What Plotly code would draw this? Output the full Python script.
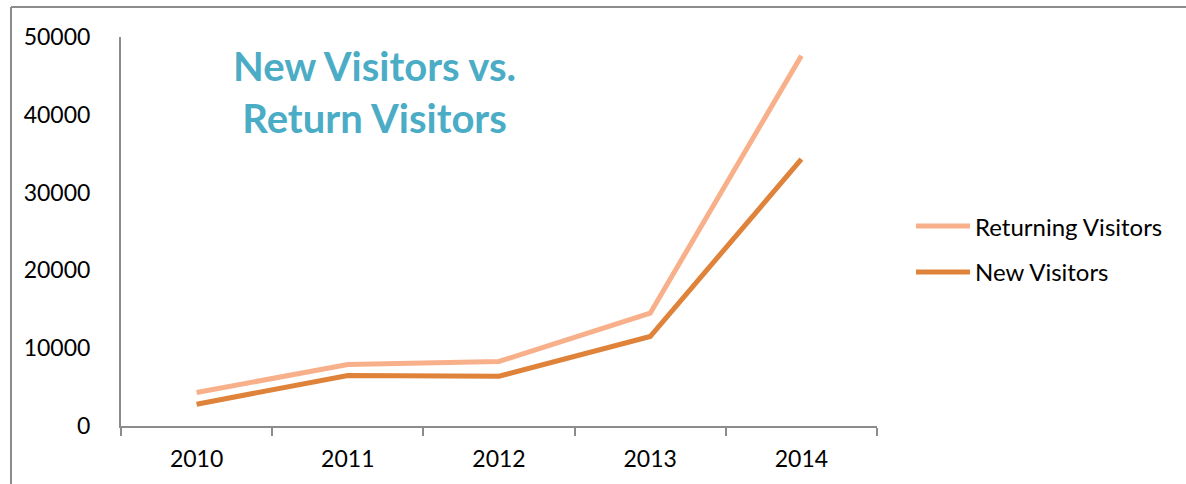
import plotly.graph_objects as go

years = ["2010", "2011", "2012", "2013", "2014"]
returning_visitors = [4300, 7900, 8300, 14500, 47600]
new_visitors = [2800, 6500, 6400, 11500, 34300]
series_names = ["Returning Visitors", "New Visitors"]
series_colors = ["#F8B08A", "#DF823A"]
y_ticks = [0, 10000, 20000, 30000, 40000, 50000]
title_lines = ["New Visitors vs.", "Return Visitors"]

FONT = "Lato, Carlito, Calibri, sans-serif"
AXIS_GRAY = "#8C8C8C"

fig = go.Figure()
for name, vals, col in zip(series_names, [returning_visitors, new_visitors], series_colors):
    fig.add_trace(go.Scatter(
        x=years, y=vals, mode="lines", name=name,
        line=dict(color=col, width=5), showlegend=False,
    ))

# manual legend (paper coords)
leg_y = [0.514, 0.396]
for name, col, yy in zip(series_names, series_colors, leg_y):
    fig.add_shape(type="line", xref="paper", yref="paper",
                  x0=1.0516, x1=1.123, y0=yy, y1=yy,
                  line=dict(color=col, width=5))
    fig.add_annotation(xref="paper", yref="paper", x=1.127, y=yy,
                       text=name, showarrow=False, xanchor="left", yanchor="middle",
                       font=dict(family=FONT, size=24, color="#000000"))

# title
fig.add_annotation(xref="paper", yref="paper", x=0.3347, y=0.8586,
                   text="<b>" + title_lines[0] + "<br>" + title_lines[1] + "</b>",
                   showarrow=False, xanchor="center", yanchor="middle",
                   font=dict(family=FONT, size=40, color="#4BACC6"))

# outer chart border (left and top)
fig.add_shape(type="line", xref="paper", yref="paper",
              x0=-0.1455, x1=-0.1455, y0=1.0771, y1=-0.2,
              line=dict(color=AXIS_GRAY, width=2))
fig.add_shape(type="line", xref="paper", yref="paper",
              x0=-0.1455, x1=1.5, y0=1.0771, y1=1.0771,
              line=dict(color=AXIS_GRAY, width=2))

fig.update_layout(
    width=1186, height=484,
    margin=dict(l=121, r=309, t=37, b=58),
    paper_bgcolor="white", plot_bgcolor="white",
    font=dict(family=FONT, size=23, color="#000000"),
    xaxis=dict(
        type="category", range=[-0.5, 4.5],
        showgrid=False, zeroline=False,
        showline=True, linecolor=AXIS_GRAY, linewidth=2,
        ticks="outside", tickson="boundaries", ticklen=8,
        tickcolor=AXIS_GRAY, tickwidth=2,
        ticklabelstandoff=11,
        tickfont=dict(family=FONT, size=23, color="#000000"),
    ),
    yaxis=dict(
        range=[0, 50000], tickvals=y_ticks,
        ticktext=[str(v) for v in y_ticks],
        showgrid=False, zeroline=False,
        showline=True, linecolor=AXIS_GRAY, linewidth=2,
        ticks="", ticklabelstandoff=24,
        tickfont=dict(family=FONT, size=23, color="#000000"),
    ),
)

fig.write_html("out.html")
